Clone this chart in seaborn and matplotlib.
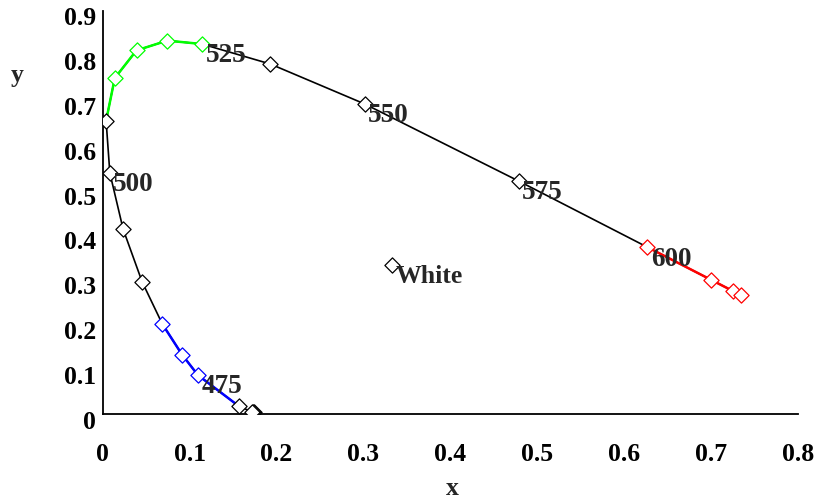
import numpy as np
import pandas as pd
import matplotlib
matplotlib.use("Agg")
import matplotlib.pyplot as plt
import matplotlib.transforms as mtransforms
import seaborn as sns

# ---- data (CIE 1931 spectral locus points) ----
wavelengths = [380, 400, 420, 450, 475, 480, 485, 490, 495, 500, 505,
               510, 515, 520, 525, 535, 550, 575, 600, 625, 650, 700]
cie_x = [0.1741, 0.1733, 0.1714, 0.1566, 0.1096, 0.0913, 0.0687, 0.0454,
         0.0235, 0.0082, 0.0039, 0.0139, 0.0389, 0.0743, 0.1142, 0.1929,
         0.3016, 0.4788, 0.6270, 0.7006, 0.7260, 0.7347]
cie_y = [0.0050, 0.0048, 0.0051, 0.0177, 0.0868, 0.1327, 0.2007, 0.2950,
         0.4127, 0.5384, 0.6548, 0.7502, 0.8120, 0.8338, 0.8262, 0.7816,
         0.6923, 0.5202, 0.3725, 0.2993, 0.2740, 0.2653]
marker_group = ["k", "k", "k", "k", "b", "b", "b", "k", "k", "k", "k",
                "g", "g", "g", "g", "k", "k", "k", "r", "r", "r", "r"]
blue_segment = [450, 475, 480, 485]
green_segment = [505, 510, 515, 520, 525]
red_segment = [600, 625, 650, 700]
labelled = [475, 500, 525, 550, 575, 600]
white_x = [0.3333]
white_y = [0.3333]
white_label = "White"

x_ticks = [0.0, 0.1, 0.2, 0.3, 0.4, 0.5, 0.6, 0.7, 0.8]
x_tick_labels = ["0", "0.1", "0.2", "0.3", "0.4", "0.5", "0.6", "0.7", "0.8"]
y_ticks = [0.0, 0.1, 0.2, 0.3, 0.4, 0.5, 0.6, 0.7, 0.8, 0.9]
y_tick_labels = ["0", "0.1", "0.2", "0.3", "0.4", "0.5", "0.6", "0.7", "0.8", "0.9"]

df = pd.DataFrame({"wl": wavelengths, "x": cie_x, "y": cie_y, "grp": marker_group})

sns.set_style("white")
plt.rcParams["font.family"] = ["Liberation Serif", "DejaVu Serif"]
plt.rcParams["font.weight"] = "bold"

fig = plt.figure(figsize=(8.25, 4.99), dpi=100)
ax = fig.add_axes([0.1245, 0.1703, 0.967 - 0.1245, 0.978 - 0.1703])

FS = 18.5
FS_NUM = 19.5
colors = {"k": "black", "b": "#0000FF", "g": "#00FF00", "r": "#FF0000"}

# full black locus line
sns.lineplot(data=df, x="x", y="y", sort=False, estimator=None,
             color="black", lw=1.2, ax=ax, zorder=2)
# colored segments
for seg, c in [(blue_segment, colors["b"]), (green_segment, colors["g"]),
               (red_segment, colors["r"])]:
    sub = df[df["wl"].isin(seg)]
    sns.lineplot(data=sub, x="x", y="y", sort=False, estimator=None,
                 color=c, lw=1.8, ax=ax, zorder=3)

# markers
for g, c in colors.items():
    sub = df[df["grp"] == g]
    sns.scatterplot(data=sub, x="x", y="y", marker="D", s=60, ax=ax, zorder=4)
    coll = ax.collections[-1]
    coll.set_facecolor("white")
    coll.set_edgecolor(c)
    coll.set_linewidth(0.9)

wdf = pd.DataFrame({"x": white_x, "y": white_y})
sns.scatterplot(data=wdf, x="x", y="y", marker="D", s=60, ax=ax, zorder=4)
coll = ax.collections[-1]
coll.set_facecolor("white")
coll.set_edgecolor("black")
coll.set_linewidth(0.9)

# data labels
for _, r in df[df["wl"].isin(labelled)].iterrows():
    ax.annotate(str(int(r["wl"])), (r["x"], r["y"]), xytext=(2.5, 0.5),
                textcoords="offset points", ha="left", va="top",
                fontsize=FS_NUM, fontweight="bold", zorder=5)
ax.annotate(white_label, (white_x[0], white_y[0]), xytext=(2.5, 0),
            textcoords="offset points", ha="left", va="top",
            fontsize=FS, fontweight="bold", zorder=5)

ax.set_xlim(0, 0.8)
ax.set_ylim(0, 0.9)
ax.set_xticks(x_ticks)
ax.set_xticklabels(x_tick_labels)
ax.set_yticks(y_ticks)
ax.set_yticklabels(y_tick_labels)

for s in ["top", "right"]:
    ax.spines[s].set_visible(False)
for s in ["left", "bottom"]:
    ax.spines[s].set_linewidth(1.3)
    ax.spines[s].set_color("black")

ax.tick_params(axis="both", direction="inout", length=8, width=1.3,
               colors="black", labelsize=FS)
ax.tick_params(axis="x", pad=17)
ax.tick_params(axis="y", pad=1)
for lab in ax.get_xticklabels() + ax.get_yticklabels():
    lab.set_fontweight("bold")

offset = mtransforms.ScaledTranslation(0, -5.5 / 100, fig.dpi_scale_trans)
for lab in ax.get_yticklabels():
    lab.set_transform(lab.get_transform() + offset)

ax.set_xlabel("x", fontsize=FS, fontweight="bold", va="center")
ax.set_ylabel("y", fontsize=FS, fontweight="bold", rotation=0,
              ha="center", va="center")
ax.xaxis.set_label_coords(0.503, -0.186)
ax.yaxis.set_label_coords(-0.1233, 0.8387)

ax.grid(False)
fig.savefig("out.png", dpi=100)
